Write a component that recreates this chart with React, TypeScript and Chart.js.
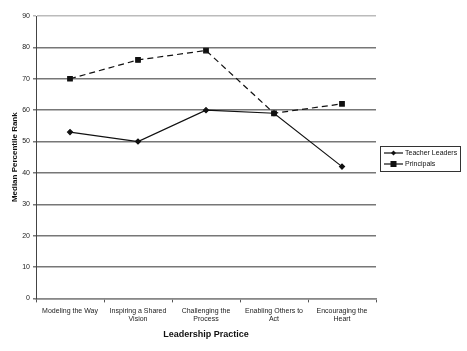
import React, { useEffect, useRef } from "react";
import { Chart, registerables } from "chart.js";
Chart.register(...registerables);

const categories = [
  ["Modeling the Way"],
  ["Inspiring a Shared", "Vision"],
  ["Challenging the", "Process"],
  ["Enabling Others to", "Act"],
  ["Encouraging the", "Heart"],
];
const teacherLeaders = [53, 50, 60, 59, 42];
const principals = [70, 76, 79, 59, 62];
const yMin = 0;
const yMax = 90;
const yStep = 10;

const FONT = "'Liberation Sans', Arial, sans-serif";

const legendPlugin = {
  id: "boxLegend",
  afterDraw(chart: any) {
    const ctx = chart.ctx;
    const x0 = 380, y0 = 146, w = 80, h = 25;
    ctx.save();
    ctx.strokeStyle = "#333";
    ctx.lineWidth = 1;
    ctx.strokeRect(x0 + 0.5, y0 + 0.5, w, h);
    chart.data.datasets.forEach((ds: any, i: number) => {
      const cy = y0 + 7 + i * 11;
      ctx.strokeStyle = ds.borderColor;
      ctx.lineWidth = 1.2;
      ctx.setLineDash([]);
      ctx.beginPath();
      ctx.moveTo(x0 + 4, cy);
      ctx.lineTo(x0 + 23, cy);
      ctx.stroke();
      ctx.fillStyle = ds.pointBackgroundColor;
      const mx = x0 + 13.5;
      if (ds.pointStyle === "rect") {
        ctx.fillRect(mx - 3, cy - 3, 6, 6);
      } else {
        ctx.beginPath();
        ctx.moveTo(mx, cy - 2.5);
        ctx.lineTo(mx + 2.5, cy);
        ctx.lineTo(mx, cy + 2.5);
        ctx.lineTo(mx - 2.5, cy);
        ctx.closePath();
        ctx.fill();
      }
      ctx.fillStyle = "#111";
      ctx.font = `7px ${FONT}`;
      ctx.textBaseline = "middle";
      ctx.textAlign = "left";
      ctx.fillText(ds.label, x0 + 25, cy + 0.5);
    });
    ctx.restore();
  },
};

export default function App() {
  const ref = useRef<HTMLCanvasElement>(null);
  useEffect(() => {
    const chart = new Chart(ref.current!, {
      type: "line",
      data: {
        labels: categories,
        datasets: [
          {
            label: "Teacher Leaders",
            data: teacherLeaders,
            borderColor: "#111",
            backgroundColor: "#111",
            pointBackgroundColor: "#111",
            pointBorderColor: "#111",
            pointStyle: "rectRot",
            pointRadius: 2.5,
            borderWidth: 1.2,
            tension: 0,
          },
          {
            label: "Principals",
            data: principals,
            borderColor: "#111",
            backgroundColor: "#111",
            pointBackgroundColor: "#111",
            pointBorderColor: "#111",
            pointStyle: "rect",
            pointRadius: 3.2,
            borderWidth: 1.2,
            borderDash: [6, 4],
            tension: 0,
          },
        ],
      },
      options: {
        animation: false,
        responsive: false,
        layout: { padding: { left: 10, right: 91, top: 16, bottom: 11 } },
        plugins: {
          legend: { display: false },
          tooltip: { enabled: false },
        },
        scales: {
          x: {
            offset: true,
            grid: {
              offset: true,
              drawOnChartArea: false,
              drawTicks: true,
              tickLength: 4,
              color: "#555",
            },
            border: { color: "#888", width: 1.5 },
            ticks: {
              color: "#222",
              font: { family: FONT, size: 7 },
              padding: 4,
              maxRotation: 0,
              autoSkip: false,
            },
            title: {
              display: true,
              text: "Leadership Practice",
              color: "#111",
              font: { family: FONT, size: 9, weight: "bold" },
              padding: { top: 2, bottom: 0 },
            },
          },
          y: {
            min: yMin,
            max: yMax,
            afterFit: (s: any) => {
              s.width = 26;
            },
            ticks: {
              stepSize: yStep,
              color: "#222",
              font: { family: FONT, size: 7 },
              padding: 3,
            },
            grid: {
              color: (c: any) => (c.tick && c.tick.value === yMax ? "#bbb" : "#777"),
              lineWidth: 1.5,
              drawTicks: true,
              tickLength: 3,
            },
            border: { color: "#444", width: 1 },
            title: {
              display: true,
              text: "Median Percentile Rank",
              color: "#111",
              font: { family: FONT, size: 8, weight: "bold" },
              padding: { top: 0, bottom: 2 },
            },
          },
        },
      },
      plugins: [legendPlugin],
    } as any);
    return () => chart.destroy();
  }, []);
  return (
    <div style={{ position: "fixed", left: 0, top: 0, width: 467, height: 351, background: "#fff" }}>
      <canvas ref={ref} width={467} height={351} />
    </div>
  );
}
